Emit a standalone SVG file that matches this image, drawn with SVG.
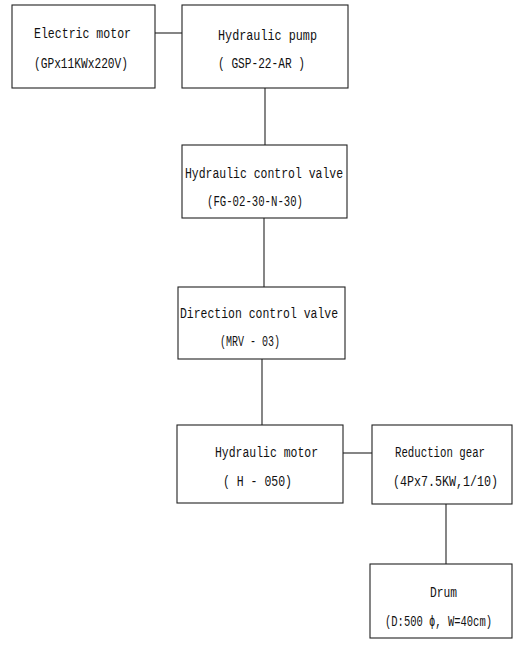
<svg xmlns="http://www.w3.org/2000/svg" width="514" height="650" viewBox="0 0 514 650">
<style>
.box{fill:#fff;stroke:#222;stroke-width:1.1}
.ln{stroke:#222;stroke-width:1.1;fill:none}
text{font-family:"Liberation Mono","DejaVu Sans Mono",monospace;font-size:14px;fill:#111}
</style>
<rect width="514" height="650" fill="#fff"/>
<g id="connectors">
<line class="ln" x1="155" y1="33" x2="182" y2="33"/>
<line class="ln" x1="265" y1="88" x2="265" y2="145"/>
<line class="ln" x1="264" y1="218" x2="264" y2="287"/>
<line class="ln" x1="262" y1="359" x2="262" y2="425"/>
<line class="ln" x1="343" y1="453" x2="372" y2="453"/>
<line class="ln" x1="446" y1="504" x2="446" y2="564"/>
</g>
<g id="electric-motor">
<rect class="box" x="12" y="5" width="143" height="83"/>
<text x="34" y="38" textLength="97" lengthAdjust="spacingAndGlyphs">Electric motor</text>
<text x="34" y="68" textLength="94" lengthAdjust="spacingAndGlyphs">(GPx11KWx220V)</text>
</g>
<g id="hydraulic-pump">
<rect class="box" x="182" y="5" width="166" height="83"/>
<text x="218" y="40" textLength="99" lengthAdjust="spacingAndGlyphs">Hydraulic pump</text>
<text x="218" y="68" textLength="87" lengthAdjust="spacingAndGlyphs">( GSP-22-AR )</text>
</g>
<g id="hydraulic-control-valve">
<rect class="box" x="182" y="145" width="165" height="73"/>
<text x="185" y="178" textLength="158" lengthAdjust="spacingAndGlyphs">Hydraulic control valve</text>
<text x="207" y="206" textLength="96" lengthAdjust="spacingAndGlyphs">(FG-02-30-N-30)</text>
</g>
<g id="direction-control-valve">
<rect class="box" x="178" y="287" width="167" height="72"/>
<text x="180" y="318" textLength="158" lengthAdjust="spacingAndGlyphs">Direction control valve</text>
<text x="220" y="346" textLength="60" lengthAdjust="spacingAndGlyphs">(MRV - 03)</text>
</g>
<g id="hydraulic-motor">
<rect class="box" x="177" y="425" width="166" height="78"/>
<text x="215" y="457" textLength="103" lengthAdjust="spacingAndGlyphs">Hydraulic motor</text>
<text x="223" y="486" textLength="69" lengthAdjust="spacingAndGlyphs">( H - 050)</text>
</g>
<g id="reduction-gear">
<rect class="box" x="372" y="425" width="140" height="79"/>
<text x="395" y="457" textLength="90" lengthAdjust="spacingAndGlyphs">Reduction gear</text>
<text x="393" y="486" textLength="105" lengthAdjust="spacingAndGlyphs">(4Px7.5KW,1/10)</text>
</g>
<g id="drum">
<rect class="box" x="370" y="564" width="142" height="74"/>
<text x="430" y="597" textLength="27" lengthAdjust="spacingAndGlyphs">Drum</text>
<text x="385" y="626" textLength="107" lengthAdjust="spacingAndGlyphs">(D:500 ϕ, W=40cm)</text>
</g>
</svg>
